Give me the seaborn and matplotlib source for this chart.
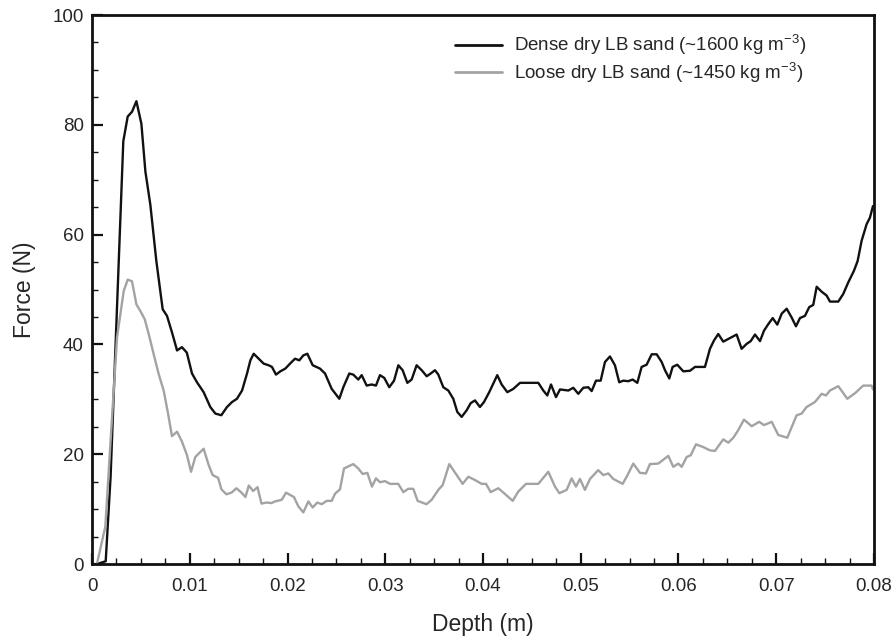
import matplotlib
matplotlib.use("Agg")
import matplotlib.pyplot as plt
from matplotlib.ticker import MultipleLocator
import seaborn as sns
import pandas as pd

# Penetration force vs. depth for dense and loose dry LB sand
dense_depth = [0.0005, 0.0014, 0.0019, 0.0026, 0.0032, 0.00365, 0.0041, 0.00454, 0.00505, 0.00546,
               0.00597, 0.00658, 0.00723, 0.00767, 0.00818, 0.0087, 0.0092, 0.0097, 0.01023, 0.01074,
               0.01142, 0.0121, 0.01262, 0.01323, 0.01381, 0.01432, 0.01483, 0.01535, 0.01586, 0.0162,
               0.01654, 0.01705, 0.01756, 0.01807, 0.01841, 0.01882, 0.01927, 0.01978, 0.02026, 0.02077,
               0.02121, 0.02162, 0.02203, 0.02258, 0.02332, 0.02384, 0.02452, 0.0253, 0.02571, 0.02632,
               0.02673, 0.02724, 0.02759, 0.0281, 0.02861, 0.02905, 0.02946, 0.0299, 0.03041, 0.0309,
               0.03134, 0.03178, 0.03226, 0.0327, 0.03321, 0.03373, 0.03424, 0.03465, 0.03509, 0.03543,
               0.03594, 0.03645, 0.03696, 0.03737, 0.03782, 0.03833, 0.03874, 0.03918, 0.03969, 0.0401,
               0.04064, 0.04146, 0.04191, 0.04249, 0.0431, 0.04379, 0.04566, 0.04617, 0.04658, 0.04696,
               0.04747, 0.04788, 0.04873, 0.04924, 0.04975, 0.05026, 0.05077, 0.05112, 0.05156, 0.05204,
               0.05248, 0.05299, 0.0535, 0.05394, 0.05435, 0.05486, 0.05531, 0.05579, 0.05623, 0.05674,
               0.05726, 0.05777, 0.05828, 0.05862, 0.05906, 0.0594, 0.05988, 0.06049, 0.06118, 0.06169,
               0.06271, 0.06322, 0.06363, 0.06407, 0.06458, 0.0651, 0.06595, 0.06646, 0.06698, 0.06739,
               0.06783, 0.06834, 0.06875, 0.06919, 0.06964, 0.07011, 0.07056, 0.07107, 0.07158, 0.07202,
               0.07243, 0.07294, 0.07338, 0.07379, 0.07414, 0.07465, 0.07516, 0.0755, 0.07635, 0.07686,
               0.07737, 0.07795, 0.07833, 0.07874, 0.07925, 0.07959, 0.0799]
dense_force = [0, 0.5, 15.9, 49, 77, 81.5, 82.4, 84.3, 80.2, 71.5,
               65.4, 55.2, 46.4, 45.2, 42.2, 38.9, 39.5, 38.5, 34.7, 33.1,
               31.3, 28.6, 27.4, 27.1, 28.6, 29.5, 30.1, 31.6, 34.7, 37.1,
               38.3, 37.4, 36.5, 36.2, 35.9, 34.5, 35.1, 35.6, 36.5, 37.4,
               37.1, 38.0, 38.3, 36.2, 35.6, 34.7, 31.9, 30.1, 32.2, 34.7,
               34.5, 33.6, 34.4, 32.5, 32.7, 32.5, 34.4, 33.9, 32.2, 33.4,
               36.2, 35.3, 33.0, 33.6, 36.2, 35.3, 34.2, 34.7, 35.3, 34.5,
               32.2, 31.6, 30.1, 27.7, 26.8, 28.0, 29.3, 29.8, 28.6, 29.5,
               31.3, 34.4, 32.7, 31.3, 31.9, 33.0, 33.0, 31.6, 30.7, 32.7,
               30.4, 31.8, 31.6, 32.1, 31.0, 32.1, 32.2, 31.5, 33.4, 33.4,
               36.8, 37.8, 36.2, 33.1, 33.4, 33.3, 33.6, 33.0, 35.9, 36.3,
               38.2, 38.2, 36.8, 35.3, 33.8, 35.9, 36.3, 35.1, 35.2, 35.9,
               35.9, 39.2, 40.7, 41.9, 40.5, 41.0, 41.8, 39.2, 40.1, 40.6,
               41.8, 40.6, 42.5, 43.7, 44.8, 43.6, 45.6, 46.5, 44.9, 43.3,
               44.8, 45.2, 46.8, 47.2, 50.5, 49.6, 48.9, 47.8, 47.8, 49.2,
               51.3, 53.4, 55.2, 58.9, 61.9, 63.1, 65.2]

loose_depth = [0.0005, 0.00136, 0.00188, 0.00256, 0.00324, 0.00365, 0.00409, 0.00454, 0.00494, 0.00539,
               0.0058, 0.00631, 0.00682, 0.00733, 0.00778, 0.00818, 0.0087, 0.0092, 0.00972, 0.01013,
               0.01057, 0.01108, 0.01142, 0.01194, 0.01234, 0.0129, 0.01324, 0.01375, 0.01427, 0.01478,
               0.01529, 0.0157, 0.01604, 0.01648, 0.01693, 0.01734, 0.01785, 0.01836, 0.01872, 0.01941,
               0.01985, 0.02026, 0.02066, 0.02111, 0.02162, 0.02213, 0.02258, 0.02305, 0.0235, 0.02401,
               0.02452, 0.02486, 0.02537, 0.02578, 0.02673, 0.02724, 0.02769, 0.02817, 0.02864, 0.02905,
               0.02946, 0.02997, 0.03049, 0.03133, 0.03185, 0.03236, 0.03287, 0.03331, 0.03422, 0.03475,
               0.03543, 0.03588, 0.03655, 0.03731, 0.03792, 0.0385, 0.03918, 0.03986, 0.04031, 0.04079,
               0.04157, 0.04235, 0.04304, 0.04361, 0.0444, 0.04566, 0.04668, 0.04737, 0.04781, 0.04856,
               0.04907, 0.04951, 0.04992, 0.05043, 0.05095, 0.05179, 0.05231, 0.05282, 0.05333, 0.05429,
               0.0547, 0.05538, 0.05606, 0.05667, 0.05708, 0.05794, 0.05896, 0.05947, 0.05998, 0.06033,
               0.06084, 0.06125, 0.06179, 0.06254, 0.06322, 0.06373, 0.06458, 0.0651, 0.06561, 0.06612,
               0.0667, 0.06749, 0.06826, 0.06875, 0.06954, 0.07021, 0.07113, 0.07209, 0.0726, 0.07311,
               0.07396, 0.07465, 0.07509, 0.0755, 0.07635, 0.07727, 0.07806, 0.0789, 0.07976, 0.0799]
loose_force = [0, 6.8, 21.9, 41.3, 49.7, 51.8, 51.5, 47.3, 46.1, 44.6,
               41.9, 38.2, 34.6, 31.6, 27.4, 23.3, 24.1, 22.3, 19.8, 16.8,
               19.5, 20.4, 21.0, 18.0, 16.2, 15.7, 13.6, 12.7, 13.0, 13.8,
               13.0, 12.2, 14.3, 13.3, 14.0, 11.0, 11.2, 11.1, 11.4, 11.7,
               13.0, 12.6, 12.2, 10.5, 9.4, 11.4, 10.3, 11.2, 10.9, 11.5,
               11.5, 12.8, 13.6, 17.4, 18.2, 17.4, 16.4, 16.6, 14.1, 15.6,
               14.9, 15.1, 14.6, 14.6, 13.1, 13.7, 13.7, 11.5, 10.9, 11.7,
               13.5, 14.4, 18.2, 16.2, 14.6, 15.9, 15.3, 14.6, 14.6, 13.1,
               13.8, 12.6, 11.5, 13.2, 14.6, 14.6, 16.8, 14.1, 12.9, 13.5,
               15.6, 14.1, 15.5, 13.5, 15.5, 17.1, 16.2, 16.5, 15.5, 14.6,
               15.9, 18.3, 16.6, 16.5, 18.2, 18.3, 19.7, 17.7, 18.3, 17.7,
               19.5, 19.8, 21.8, 21.3, 20.7, 20.6, 22.7, 22.1, 23.0, 24.4,
               26.3, 25.1, 25.9, 25.3, 25.9, 23.5, 23.0, 27.1, 27.4, 28.6,
               29.5, 31.0, 30.7, 31.6, 32.4, 30.1, 31.1, 32.5, 32.5, 31.8]

series_labels = [r"Dense dry LB sand (~1600 kg m$^{-3}$)",
                 r"Loose dry LB sand (~1450 kg m$^{-3}$)"]
series_colors = ["#111111", "#a3a3a3"]

x_ticks = [0, 0.01, 0.02, 0.03, 0.04, 0.05, 0.06, 0.07, 0.08]
x_tick_labels = ["0", "0.01", "0.02", "0.03", "0.04", "0.05", "0.06", "0.07", "0.08"]
y_ticks = [0, 20, 40, 60, 80, 100]

df = pd.concat([
    pd.DataFrame({"depth": dense_depth, "force": dense_force, "sand": series_labels[0]}),
    pd.DataFrame({"depth": loose_depth, "force": loose_force, "sand": series_labels[1]}),
], ignore_index=True)

sns.set_style("ticks")
plt.rcParams["font.family"] = ["Liberation Sans", "DejaVu Sans"]
plt.rcParams["mathtext.fontset"] = "custom"
plt.rcParams["mathtext.rm"] = "Liberation Sans"

fig = plt.figure(figsize=(8.96, 6.44), dpi=100)
ax = fig.add_axes([0.1027, 0.1242, 0.8727, 0.8525])

sns.lineplot(data=df, x="depth", y="force", hue="sand", palette=series_colors,
             hue_order=series_labels, estimator=None, sort=False,
             linewidth=1.7, ax=ax)

ax.set_xlim(0, 0.08)
ax.set_ylim(0, 100)
ax.set_xticks(x_ticks)
ax.set_xticklabels(x_tick_labels)
ax.set_yticks(y_ticks)
ax.xaxis.set_minor_locator(MultipleLocator(0.0025))
ax.yaxis.set_minor_locator(MultipleLocator(5))

ax.tick_params(axis="both", which="major", direction="in", length=8, width=1.6,
               labelsize=13.5, pad=6, color="#111111")
ax.tick_params(axis="x", which="major", pad=10)
ax.tick_params(axis="both", which="minor", direction="in", length=4, width=1.0,
               color="#111111")
ax.tick_params(top=False, right=False, which="both")
for side in ["left", "right", "top", "bottom"]:
    ax.spines[side].set_visible(True)
    ax.spines[side].set_linewidth(2.0)
    ax.spines[side].set_color("#111111")

ax.set_xlabel("Depth (m)", fontsize=16.5, labelpad=13)
ax.set_ylabel("Force (N)", fontsize=16.5, labelpad=12)

leg = ax.legend(loc="upper left", bbox_to_anchor=(0.464, 0.968), frameon=False,
                fontsize=13.5, handlelength=2.5, handletextpad=0.65,
                labelspacing=0.15, borderaxespad=0, borderpad=0)
for line in leg.get_lines():
    line.set_linewidth(2.0)

fig.savefig("out.png", dpi=100)
